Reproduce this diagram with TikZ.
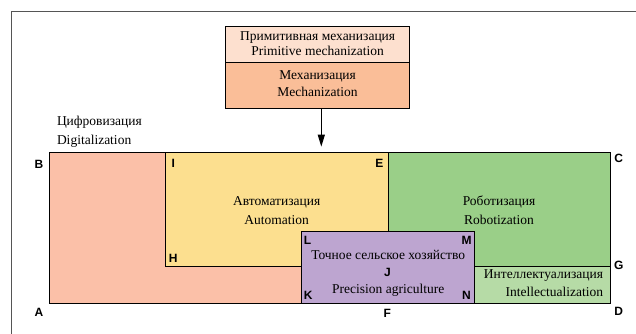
\documentclass[tikz,border=0pt]{standalone}
\usepackage{fontspec}
\setmainfont{Liberation Serif}
\newfontfamily\lblfont{Liberation Sans}
\usetikzlibrary{arrows.meta}
\definecolor{salmonc}{HTML}{FBC0A8}
\definecolor{yellowc}{HTML}{FCDF8F}
\definecolor{greenc}{HTML}{9ACF88}
\definecolor{purplec}{HTML}{BDA5D0}
\definecolor{lgreenc}{HTML}{B6DBA6}
\definecolor{toplightc}{HTML}{FDE0CF}
\definecolor{mechc}{HTML}{FABE98}
\definecolor{framec}{HTML}{555555}
\tikzset{
  region/.style={draw=black, line width=1pt, anchor=north west, inner sep=0pt, outer sep=0pt},
  txt/.style={font=\fontsize{13.5}{13.5}\selectfont, inner sep=0pt},
  lbl/.style={font=\lblfont\bfseries\fontsize{12}{12}\selectfont, inner sep=0pt},
}
\begin{document}
\begin{tikzpicture}[x=1pt,y=-1pt]
\useasboundingbox (0,0) rectangle (636,333);
% frame
\draw[framec, line width=1.2pt] (11.4,334) -- (11.4,11.7) -- (637,11.7);
% regions
\node[region, fill=salmonc, minimum width=561pt, minimum height=150.6pt] (big) at (49.5,152.7) {};
\node[region, fill=yellowc, minimum width=223.1pt, minimum height=114pt] (auto) at (165.5,152.7) {};
\node[region, fill=greenc, minimum width=221.9pt, minimum height=114pt] (robo) at (388.6,152.7) {};
\node[region, fill=lgreenc, minimum width=135.9pt, minimum height=36.6pt] (intel) at (474.6,266.7) {};
\node[region, fill=purplec, minimum width=173.2pt, minimum height=72.3pt] (prec) at (301.4,231) {};
% top boxes
\node[region, fill=toplightc, minimum width=184.1pt, minimum height=35.3pt] (prim) at (225.6,26.7) {};
\node[region, fill=mechc, minimum width=184.1pt, minimum height=46.3pt] (mech) at (225.6,62) {};
% arrow
\coordinate (tip) at (321.3,146.7);
\draw[line width=1pt, -{Triangle[length=12pt,width=7pt]}] (mech.south -| tip) -- (tip);
% texts
\node[txt] at (317.6,37.3) {Примитивная механизация};
\node[txt] at (317.6,50.7) {Primitive mechanization};
\node[txt] at (317.6,76.7) {Механизация};
\node[txt] at (317.6,92) {Mechanization};
\node[txt, anchor=west] at (56.8,122.7) {Цифровизация};
\node[txt, anchor=west] at (56.8,141.7) {Digitalization};
\node[txt] at (276.7,202) {Автоматизация};
\node[txt] at (276.7,220) {Automation};
\node[txt] at (499,202) {Роботизация};
\node[txt] at (499,220) {Robotization};
\node[txt] at (388.2,255) {Точное сельское хозяйство};
\node[txt] at (388.2,290.7) {Precision agriculture};
\node[txt, anchor=east] at (603.2,275.7) {Интеллектуализация};
\node[txt, anchor=east] at (603.2,291.7) {Intellectualization};
% point labels
\node[lbl] (lA) at (39,312.7) {A};
\node[lbl] (lB) at (39,164) {B};
\node[lbl] (lC) at (618.7,158.3) {C};
\node[lbl] (lD) at (618.7,311.7) {D};
\node[lbl] (lE) at (379.3,163.3) {E};
\node[lbl] (lF) at (387.4,313.3) {F};
\node[lbl] (lG) at (618.7,265) {G};
\node[lbl] (lH) at (173.2,258.3) {H};
\node[lbl] (lI) at (173.2,163.3) {I};
\node[lbl] (lJ) at (387.4,272.3) {J};
\node[lbl] (lK) at (308.3,295) {K};
\node[lbl] (lL) at (307.5,240.7) {L};
\node[lbl] (lM) at (466.5,240.7) {M};
\node[lbl] (lN) at (466.5,295) {N};
\end{tikzpicture}
\end{document}
